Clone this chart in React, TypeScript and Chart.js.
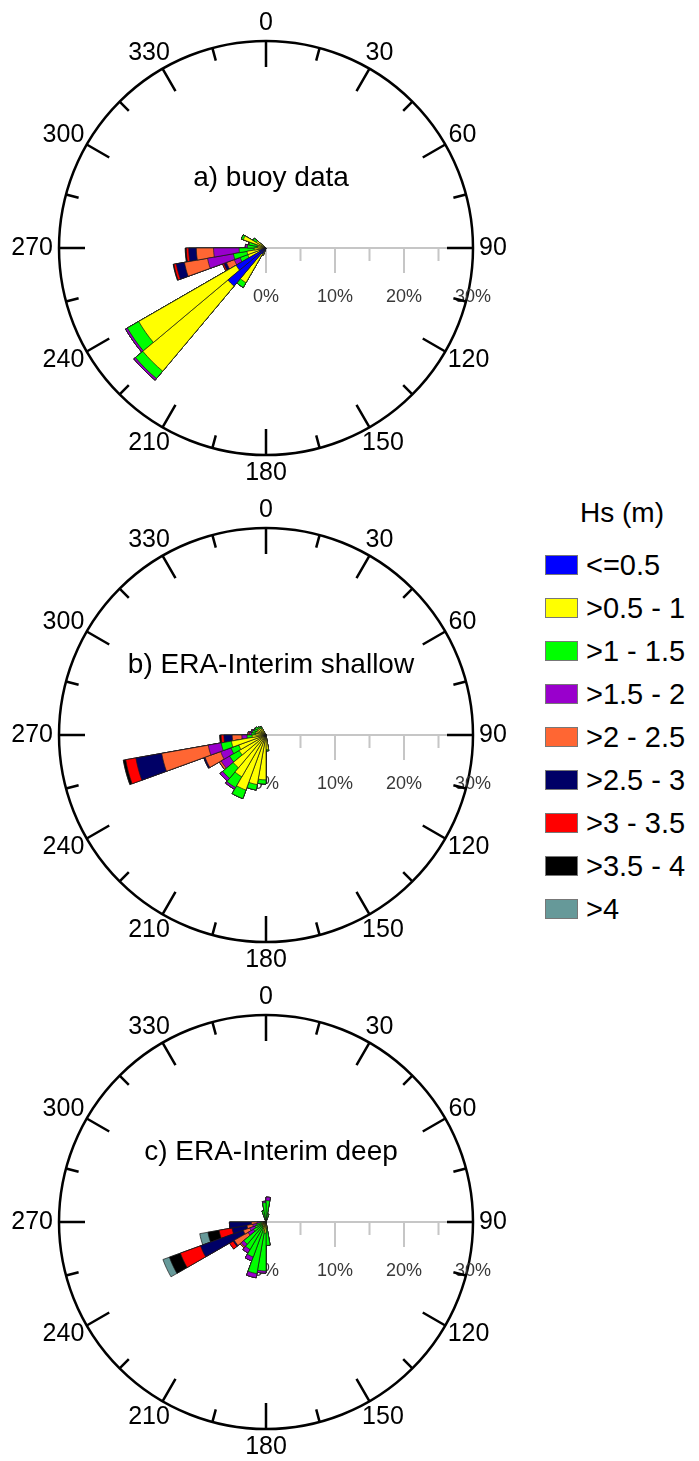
import { useEffect, useRef } from 'react';
import { Chart, registerables } from 'chart.js';

Chart.register(...registerables);

// 10° direction bins (bin start, degrees from north, clockwise)
const directionLabels = [
  '0', '10', '20', '30', '40', '50', '60', '70', '80', '90', '100', '110',
  '120', '130', '140', '150', '160', '170', '180', '190', '200', '210', '220', '230',
  '240', '250', '260', '270', '280', '290', '300', '310', '320', '330', '340', '350',
];

// significant wave height classes
const hsClasses = ['<=0.5', '>0.5 - 1', '>1 - 1.5', '>1.5 - 2', '>2 - 2.5', '>2.5 - 3', '>3 - 3.5', '>3.5 - 4', '>4'];
const hsColors = ['#0000ff', '#ffff00', '#00ff00', '#9900cc', '#ff6633', '#000066', '#ff0000', '#000000', '#669999'];

const compassLabels = ['0', '30', '60', '90', '120', '150', '180', '210', '240', '270', '300', '330'];
const percentLabels = [0, 10, 20, 30];
const axisTicks = [0, 5, 10, 15, 20, 25];

// frequency of occurrence (%) per Hs class, keyed by direction bin start
const buoyRows: [number, number[]][] = [
  [300, [0.1, 1.5, 0.6]],
  [290, [0.1, 3.4, 0.3]],
  [280, [0.1, 1.2, 1.2, 0.1]],
  [270, [0.2, 1.0, 1.5, 0.3]],
  [260, [0.2, 1.5, 2.2, 3.7, 2.5, 1.1, 0.35, 0.15]],
  [250, [0.4, 2.4, 2.0, 3.8, 3.4, 1.2, 0.35, 0.1]],
  [240, [1.0, 1.8, 1.2, 0.9, 1.2, 0.4, 0.2]],
  [230, [5.0, 16.3, 1.9, 0.3]],
  [220, [7.2, 16.1, 1.4, 0.3]],
  [210, [1.0, 4.8, 0.8]],
  [200, [0.3, 0.8]],
];

const shallowRows: [number, number[]][] = [
  [320, [0.1, 1.0, 0.3]],
  [310, [0.1, 1.2, 0.3]],
  [300, [0.1, 1.3, 0.4]],
  [290, [0.1, 1.3, 0.4, 0.1]],
  [280, [0.1, 1.4, 0.5, 0.2]],
  [270, [0.1, 1.4, 0.6, 0.3, 0.2]],
  [260, [0.1, 1.9, 0.75, 0.75, 1.4, 1.2, 0.4, 0.2]],
  [250, [0.3, 4.8, 1.5, 1.9, 6.85, 3.8, 1.5, 0.35]],
  [240, [0.2, 4.0, 1.2, 1.6, 2.4, 0.2]],
  [230, [0.2, 4.3, 1.6, 1.4, 0.3]],
  [220, [0.2, 6.0, 2.0, 0.5]],
  [210, [0.2, 6.8, 1.8, 0.3]],
  [200, [0.2, 8.3, 1.3]],
  [190, [0.2, 7.1, 0.8]],
  [180, [0.2, 6.3, 0.6]],
  [170, [0.1, 2.0, 0.2]],
];

const deepRows: [number, number[]][] = [
  [10, [0, 0.2, 1.0]],
  [0, [0, 0.3, 2.8, 0.5]],
  [350, [0, 0.3, 2.5, 0.2]],
  [340, [0, 0.2, 1.5]],
  [260, [0, 0.3, 0.5, 0.5, 0.8, 3.2]],
  [250, [0.05, 0.5, 0.8, 0.6, 0.85, 2.2, 1.9, 1.65, 1.2]],
  [240, [0.1, 0.6, 1.0, 0.8, 1.0, 6.6, 3.1, 1.7, 1.0]],
  [230, [0.1, 0.5, 1.5, 0.9, 2.3, 0.2, 0.6]],
  [220, [0.1, 0.5, 3.6, 0.5, 0.2]],
  [210, [0.1, 0.6, 3.9, 0.6]],
  [200, [0.1, 0.8, 4.5, 0.6]],
  [190, [0.1, 1.2, 6.3, 0.6]],
  [180, [0.1, 1.5, 5.5, 0.3]],
  [170, [0.1, 0.8, 2.5]],
];

const FONT = '"Liberation Sans", Arial, Helvetica, sans-serif';

// stacked rose: each class is drawn as a cumulative arc, smallest on top
function buildDatasets(rows: [number, number[]][]) {
  const byBin = directionLabels.map((d) => {
    const row = rows.find((r) => r[0] === Number(d));
    return row ? row[1] : [];
  });
  return hsClasses.map((label, k) => ({
    label,
    data: byBin.map((vals) => {
      let s = 0;
      for (let j = 0; j <= k; j++) s += vals[j] || 0;
      return +s.toFixed(3);
    }),
    backgroundColor: hsColors[k],
    borderColor: '#1a1a1a',
    borderWidth: 0.7,
  }));
}

// compass ring, direction labels, percent axis and panel title
const roseFrame = {
  id: 'roseFrame',
  beforeDatasetsDraw(chart: any, _args: any, opts: any) {
    const r = chart.scales.r;
    const ctx: CanvasRenderingContext2D = chart.ctx;
    const cx = r.xCenter;
    const cy = r.yCenter;
    const R = r.getDistanceFromCenterForValue(r.max);
    ctx.save();

    // percent axis towards east
    ctx.strokeStyle = '#c6c6c6';
    ctx.lineWidth = 2;
    ctx.beginPath();
    ctx.moveTo(cx, cy);
    ctx.lineTo(cx + R, cy);
    axisTicks.forEach((v) => {
      const x = cx + r.getDistanceFromCenterForValue(v);
      ctx.moveTo(x, cy);
      ctx.lineTo(x, cy + (v % 10 === 0 ? 25 : 13));
    });
    ctx.stroke();

    ctx.fillStyle = '#383838';
    ctx.font = `18px ${FONT}`;
    ctx.textAlign = 'center';
    ctx.textBaseline = 'alphabetic';
    percentLabels.forEach((v) => {
      ctx.fillText(`${v}%`, cx + r.getDistanceFromCenterForValue(v), cy + 54);
    });

    // compass ticks every 15°, long every 30°
    ctx.strokeStyle = '#000';
    ctx.lineWidth = 2.5;
    ctx.beginPath();
    for (let deg = 0; deg < 360; deg += 15) {
      const a = (deg * Math.PI) / 180;
      const len = deg % 30 === 0 ? 26 : 13;
      const s = Math.sin(a);
      const c = Math.cos(a);
      ctx.moveTo(cx + s * R, cy - c * R);
      ctx.lineTo(cx + s * (R - len), cy - c * (R - len));
    }
    ctx.stroke();

    ctx.fillStyle = '#000';
    ctx.font = `25px ${FONT}`;
    ctx.textAlign = 'center';
    ctx.textBaseline = 'middle';
    compassLabels.forEach((lbl) => {
      const a = (Number(lbl) * Math.PI) / 180;
      const s = Math.sin(a);
      const c = Math.cos(a);
      const w = ctx.measureText(lbl).width;
      const rx = R + 16 + Math.max(0, w / 2 - 10);
      ctx.fillText(lbl, cx + s * rx, cy - c * (R + 18));
    });

    ctx.font = `28px ${FONT}`;
    ctx.textBaseline = 'alphabetic';
    ctx.fillText(opts.title, cx + 5, cy - 62);
    ctx.restore();
  },
};

function Rose({ title, rows, top }: { title: string; rows: [number, number[]][]; top: number }) {
  const ref = useRef<HTMLCanvasElement>(null);
  useEffect(() => {
    const chart = new Chart(ref.current as HTMLCanvasElement, {
      type: 'polarArea',
      data: { labels: directionLabels, datasets: buildDatasets(rows) as any },
      options: {
        animation: false,
        responsive: false,
        events: [],
        layout: { padding: { left: 59, right: 47, top: 37, bottom: 36 } },
        plugins: {
          legend: { display: false },
          tooltip: { enabled: false },
          roseFrame: { title },
        } as any,
        scales: {
          r: {
            min: 0,
            max: 30,
            startAngle: 0,
            ticks: { display: false, stepSize: 5 },
            angleLines: { display: false },
            pointLabels: { display: false },
            grid: {
              display: true,
              circular: true,
              lineWidth: 2.5,
              color: (c: any) => (c.tick && c.tick.value === 30 ? '#000' : 'rgba(0,0,0,0)'),
            },
          },
        },
      } as any,
      plugins: [roseFrame],
    });
    return () => chart.destroy();
  }, [title, rows]);
  return (
    <canvas
      ref={ref}
      width={520}
      height={487}
      style={{ position: 'absolute', left: 0, top, width: 520, height: 487 }}
    />
  );
}

function Legend() {
  return (
    <div style={{ position: 'absolute', left: 0, top: 0, fontFamily: FONT, color: '#000' }}>
      <div
        style={{
          position: 'absolute', left: 552, top: 497, width: 140, textAlign: 'center',
          fontSize: 28, lineHeight: '32px', whiteSpace: 'nowrap',
        }}
      >
        Hs (m)
      </div>
      {hsClasses.map((label, k) => (
        <div
          key={label}
          style={{
            position: 'absolute', left: 545, top: 565 + k * 43 - 16, height: 32,
            display: 'flex', alignItems: 'center', whiteSpace: 'nowrap',
          }}
        >
          <div
            style={{
              width: 31, height: 18, background: hsColors[k],
              border: '0.5px solid #777', marginRight: 8, flex: 'none',
            }}
          />
          <span style={{ fontSize: 29, lineHeight: '32px' }}>{label}</span>
        </div>
      ))}
    </div>
  );
}

export default function App() {
  return (
    <div style={{ position: 'absolute', left: 0, top: 0, width: 699, height: 1461, background: '#fff', overflow: 'hidden' }}>
      <Rose title="a) buoy data" rows={buoyRows} top={4} />
      <Rose title="b) ERA-Interim shallow" rows={shallowRows} top={491} />
      <Rose title="c) ERA-Interim deep" rows={deepRows} top={978} />
      <Legend />
    </div>
  );
}
